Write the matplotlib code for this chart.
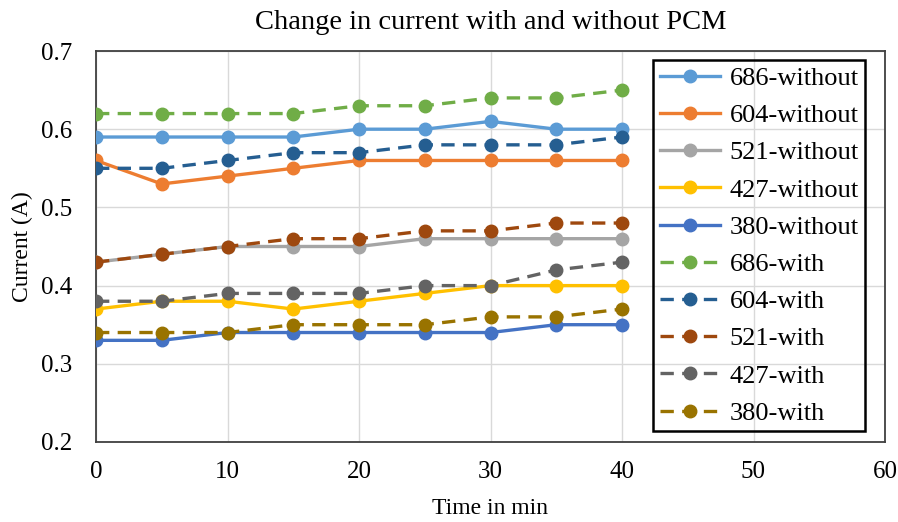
import matplotlib.pyplot as plt

# time axis (min)
time_min = [0, 5, 10, 15, 20, 25, 30, 35, 40]

# current readings (A), without PCM
cur_686_without = [0.59, 0.59, 0.59, 0.59, 0.60, 0.60, 0.61, 0.60, 0.60]
cur_604_without = [0.56, 0.53, 0.54, 0.55, 0.56, 0.56, 0.56, 0.56, 0.56]
cur_521_without = [0.43, 0.44, 0.45, 0.45, 0.45, 0.46, 0.46, 0.46, 0.46]
cur_427_without = [0.37, 0.38, 0.38, 0.37, 0.38, 0.39, 0.40, 0.40, 0.40]
cur_380_without = [0.33, 0.33, 0.34, 0.34, 0.34, 0.34, 0.34, 0.35, 0.35]

# current readings (A), with PCM
cur_686_with = [0.62, 0.62, 0.62, 0.62, 0.63, 0.63, 0.64, 0.64, 0.65]
cur_604_with = [0.55, 0.55, 0.56, 0.57, 0.57, 0.58, 0.58, 0.58, 0.59]
cur_521_with = [0.43, 0.44, 0.45, 0.46, 0.46, 0.47, 0.47, 0.48, 0.48]
cur_427_with = [0.38, 0.38, 0.39, 0.39, 0.39, 0.40, 0.40, 0.42, 0.43]
cur_380_with = [0.34, 0.34, 0.34, 0.35, 0.35, 0.35, 0.36, 0.36, 0.37]

labels = ["686-without", "604-without", "521-without", "427-without", "380-without",
          "686-with", "604-with", "521-with", "427-with", "380-with"]
series = [cur_686_without, cur_604_without, cur_521_without, cur_427_without, cur_380_without,
          cur_686_with, cur_604_with, cur_521_with, cur_427_with, cur_380_with]
colors = ["#5B9BD5", "#ED7D31", "#A5A5A5", "#FFC000", "#4472C4",
          "#70AD47", "#255E91", "#9E480E", "#636363", "#997300"]

plt.rcParams['font.family'] = ['Liberation Serif', 'DejaVu Serif']

fig = plt.figure(figsize=(8.98, 5.22), dpi=100)
ax = fig.add_axes([96 / 898, 1 - 442 / 522, (885 - 96) / 898, (442 - 51) / 522])

for i, (vals, lab, col) in enumerate(zip(series, labels, colors)):
    style = "-" if "without" in lab else "--"
    line, = ax.plot(time_min, vals, linestyle=style, color=col, linewidth=2.4,
                    marker="o", markersize=9, label=lab, zorder=3 + i)
    if style == "--":
        line.set_dashes((4, 2.5))

ax.set_xlim(0, 60)
ax.set_ylim(0.2, 0.7)
ax.set_xticks(range(0, 61, 10))
ax.set_yticks([0.2, 0.3, 0.4, 0.5, 0.6, 0.7])
ax.set_yticklabels(["0.2", "0.3", "0.4", "0.5", "0.6", "0.7"])
ax.grid(True, color="#D9D9D9", linewidth=1)
ax.set_axisbelow(True)
ax.tick_params(axis="x", length=0, labelsize=18, pad=14, colors="black")
ax.tick_params(axis="y", length=0, labelsize=18, pad=17, colors="black")
for sp in ax.spines.values():
    sp.set_color("#404040")
    sp.set_linewidth(1.3)

ax.set_title("Change in current with and without PCM", fontsize=20.5, pad=16)
ax.set_xlabel("Time in min", fontsize=17)
ax.set_ylabel("Current (A)", fontsize=17)
ax.xaxis.set_label_coords(0.5, (442 - 498) / 391)
ax.yaxis.set_label_coords((33 - 96) / 789, 0.5)

leg = ax.legend(loc="upper left", bbox_to_anchor=(653 / 898, 1 - 60 / 522),
                bbox_transform=fig.transFigure, borderaxespad=0, fontsize=19,
                handlelength=2.3, labelspacing=0.52, handletextpad=0.35,
                borderpad=0.25, fancybox=False, framealpha=1, facecolor="none")
leg.get_frame().set_edgecolor("black")
leg.get_frame().set_linewidth(1.8)

fig.savefig("out.png", dpi=100)
